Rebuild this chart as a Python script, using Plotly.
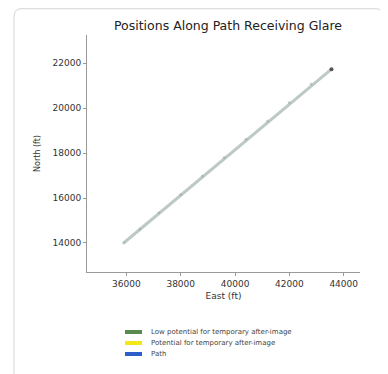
import plotly.graph_objects as go

# Data
path_east = [35900, 43550]
path_north = [14000, 21730]
glare_east = [35900, 36500, 37200, 38000, 38800, 39600, 40400, 41200, 42000, 42800, 43550]
glare_north = [14000, 14620, 15340, 16160, 16980, 17800, 18610, 19430, 20250, 21070, 21730]
legend_names = ["Low potential for temporary after-image",
                "Potential for temporary after-image",
                "Path"]
legend_colors = ["#5b8a4f", "#f5e616", "#2c5fc9"]

OFF = 8  # page body margin
W, H = 388 - OFF, 374 - OFF
ml, mr, mt, mb = 87 - OFF, 28, 35 - OFF, 102
pw, ph = W - ml - mr, H - mt - mb

def px(x):  # screen x -> paper
    return (x - OFF - ml) / pw

def py(y):  # screen y -> paper
    return (H - mb - (y - OFF)) / ph

fig = go.Figure()

fig.add_trace(go.Scatter(x=path_east, y=path_north, mode="lines",
                         line=dict(color="rgba(178,192,187,0.85)", width=3),
                         showlegend=False, hoverinfo="skip"))
fig.add_trace(go.Scatter(x=glare_east, y=glare_north, mode="markers",
                         marker=dict(color="rgba(150,170,160,0.5)", size=3),
                         showlegend=False, hoverinfo="skip"))
fig.add_trace(go.Scatter(x=[path_east[-1]], y=[path_north[-1]], mode="markers",
                         marker=dict(color="#555", size=4),
                         showlegend=False, hoverinfo="skip"))

shapes = [
    dict(type="path", xref="paper", yref="paper",
         path=(f"M {px(14)} {py(380)} L {px(14)} {py(17)} "
               f"Q {px(14)} {py(8.6)} {px(22)} {py(8.6)} "
               f"L {px(375)} {py(8.6)} Q {px(383)} {py(8.6)} {px(383)} {py(17)} "
               f"L {px(383)} {py(380)}"),
         line=dict(color="#dddddd", width=1.2), layer="below"),
]
annotations = []
for i, (name, col) in enumerate(zip(legend_names, legend_colors)):
    yc = 332 + i * 11
    shapes.append(dict(type="rect", xref="paper", yref="paper",
                       x0=px(125), x1=px(142), y0=py(yc + 2), y1=py(yc - 2),
                       fillcolor=col, line=dict(width=0)))
    annotations.append(dict(text=name, xref="paper", yref="paper",
                            x=px(149), y=py(yc), xanchor="left", yanchor="middle",
                            showarrow=False, font=dict(size=7, color="#444")))

fig.update_layout(
    width=W, height=H,
    margin=dict(l=ml, r=mr, t=mt, b=mb, autoexpand=False),
    paper_bgcolor="white", plot_bgcolor="white",
    font=dict(family="DejaVu Sans", size=9, color="#333"),
    title=dict(text="Positions Along Path Receiving Glare", x=px(228), xanchor="center",
               xref="paper", y=1 - (26 - OFF) / H, yanchor="middle",
               font=dict(size=12.5, color="#222")),
    xaxis=dict(range=[34550, 44600], tickvals=[36000, 38000, 40000, 42000, 44000],
               tickformat="d", automargin=False,
               showgrid=False, zeroline=False, showline=True, linecolor="#999",
               linewidth=1, ticks="outside", ticklen=3, tickcolor="#999",
               title=dict(text="East (ft)", font=dict(size=9), standoff=4)),
    yaxis=dict(range=[12710, 23250], tickvals=[14000, 16000, 18000, 20000, 22000],
               tickformat="d", automargin=False,
               showgrid=False, zeroline=False, showline=True, linecolor="#999",
               linewidth=1, ticks="outside", ticklen=3, tickcolor="#999",
               title=dict(text="North (ft)", font=dict(size=8), standoff=10)),
    shapes=shapes,
    annotations=annotations,
    showlegend=False,
)

fig.write_html("out.html")
